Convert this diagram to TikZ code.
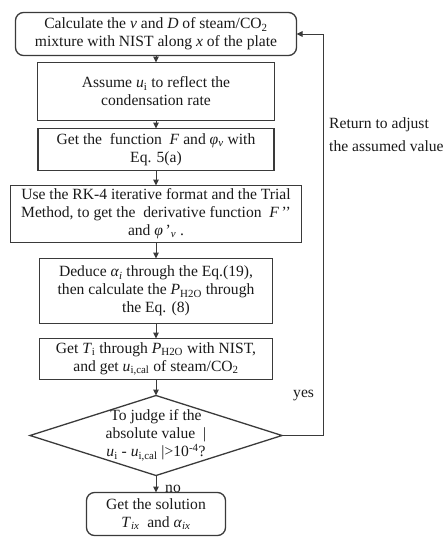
\documentclass[tikz,border=0pt]{standalone}
\usepackage{fontspec}
\setmainfont{Liberation Serif}
\usetikzlibrary{arrows.meta,positioning,shapes.geometric}
\definecolor{flowLine}{HTML}{3a3a3a}
\definecolor{flowText}{HTML}{1a1a1a}
\tikzset{
  >={Triangle[length=6pt,width=5.5pt]},
  stepbox/.style={draw=flowLine, line width=1.3pt, fill=white, align=center,
              inner sep=2pt, outer sep=0pt, text=flowText,
              font=\fontsize{15.6}{18}\selectfont},
  endbox/.style={stepbox, rounded corners=8pt},
  decision/.style={diamond, draw=flowLine, line width=1.3pt, inner sep=0pt, outer sep=0pt},
  txt/.style={align=center, text=flowText, font=\fontsize{15.6}{18}\selectfont},
  note/.style={align=left, text=flowText, font=\fontsize{15.6}{23}\selectfont},
  flow/.style={->, draw=flowLine, line width=1pt},
}
\newcommand{\sub}[1]{\textsubscript{#1}}

\begin{document}
\begin{tikzpicture}[x=1pt,y=1pt]
  \useasboundingbox (0,0) rectangle (443,-550);
  \node[endbox,minimum width=281pt,minimum height=43pt] (calc) at (156,-34)
       {Calculate the \textit{v} and \textit{D} of steam/CO\sub{2}\\mixture with NIST along \textit{x} of the plate};
  \node[stepbox,minimum width=237pt,minimum height=58pt,below=7pt of calc] (assume)
       {Assume \textit{u}\sub{i} to reflect the\\condensation rate};
  \node[stepbox,minimum width=236pt,minimum height=42pt,below=8pt of assume] (func)
       {Get the\ \ function\ \ \textit{F} and \textit{φ}\sub{\textit{v}} with\\Eq. 5(a)};
  \node[stepbox,minimum width=291pt,minimum height=57pt,below=15pt of func] (rk)
       {Use the RK-4 iterative format and the Trial\\Method, to get the\ \ derivative function\ \ \textit{F}\,’’\\and \textit{φ}\,’\sub{\textit{v}} .};
  \node[stepbox,minimum width=233pt,minimum height=65pt,below=16pt of rk] (deduce)
       {Deduce \textit{α}\sub{\textit{i}} through the Eq.(19),\\then calculate the \textit{P}\sub{H2O} through\\the Eq. (8)};
  \node[stepbox,minimum width=233pt,minimum height=41pt,below=15pt of deduce] (temp)
       {Get \textit{T}\sub{i} through \textit{P}\sub{H2O} with NIST,\\and get \textit{u}\sub{i,cal} of steam/CO\sub{2}};
  \node[decision,minimum width=252pt,minimum height=80pt,below=16pt of temp] (judge) {};
  \node[txt] (judgetxt) at (judge)
       {To judge if the\\absolute value\ \ |\\\textit{u}\sub{i} - \textit{u}\sub{i,cal} |\textgreater10\textsuperscript{-4}?};
  \node[endbox,minimum width=139pt,minimum height=43pt,below=17pt of judge] (sol)
       {Get the solution\\\textit{T}\sub{\textit{ix}}\ \ and \textit{α}\sub{\textit{ix}}};

  \draw[flow] (calc) -- (assume);
  \draw[flow] (assume) -- (func);
  \draw[flow] (func) -- (rk);
  \draw[flow] (rk) -- (deduce);
  \draw[flow] (deduce) -- (temp);
  \draw[flow] (temp) -- (judge);
  \draw[flow] (judge) -- (sol);
  \coordinate[right=41pt of judge.east] (turn);
  \draw[flow] (judge.east) -- (turn) |- (calc.east);

  \node[txt,anchor=west,inner sep=0pt] (yes) at (293,-396) {yes};
  \node[txt,anchor=west,inner sep=0pt] (no) at (165,-489) {no};
  \node[note,anchor=west,inner sep=0pt] (ret) at (329,-135) {Return to adjust\\the assumed value};
\end{tikzpicture}
\end{document}
